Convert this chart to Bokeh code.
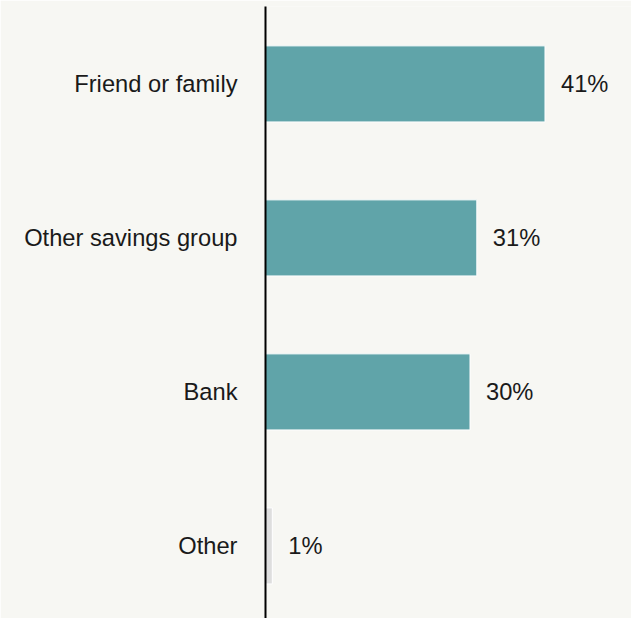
from bokeh.plotting import figure
from bokeh.models import ColumnDataSource, FixedTicker, Range1d
from bokeh.embed import file_html
from bokeh.resources import INLINE

categories = ["Friend or family", "Other savings group", "Bank", "Other"]
values = [41, 31, 30, 1]
value_labels = ["41%", "31%", "30%", "1%"]

TEAL = "#60a4a9"
GRAY = "#dedede"
BG = "#f7f7f3"
FONT = "Liberation Sans"

n = len(categories)
ypos = [n - 1 - i for i in range(n)]
colors = [GRAY if c == "Other" else TEAL for c in categories]

src = ColumnDataSource(dict(y=ypos, v=values, lab=value_labels, color=colors))

p = figure(width=631, height=618, output_backend="svg", toolbar_location=None,
           x_range=Range1d(0, 53.69), y_range=Range1d(-0.4714, 3.5026),
           min_border_left=265, min_border_right=0, min_border_top=6, min_border_bottom=0,
           background_fill_color=BG, border_fill_color=BG, outline_line_color=None)

p.hbar(y="y", left=0, right="v", height=0.494, fill_color="color",
       line_color="white", line_width=1, source=src)

p.text(x="v", y="y", text="lab", source=src, x_offset=16, text_align="left",
       text_baseline="middle", text_font_size="23.7px", text_color="#1a1a1a",
       text_font={"value": FONT})

p.xaxis.visible = False
p.xgrid.visible = False
p.ygrid.visible = False

ya = p.yaxis[0]
ya.ticker = FixedTicker(ticks=ypos)
ya.major_label_overrides = {y: c for y, c in zip(ypos, categories)}
ya.major_tick_line_color = None
ya.minor_tick_line_color = None
ya.axis_line_color = "black"
ya.axis_line_width = 2
ya.major_label_standoff = 22
ya.major_label_text_font = FONT
ya.major_label_text_font_size = "23.7px"
ya.major_label_text_color = "#1a1a1a"

open("out.html", "w").write(file_html(p, INLINE))
